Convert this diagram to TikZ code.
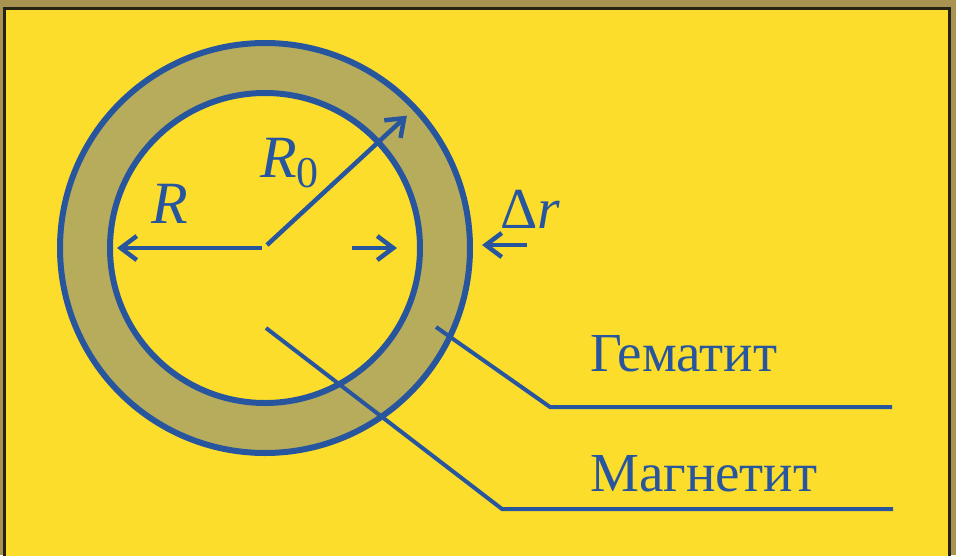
\documentclass[tikz,border=0pt]{standalone}
\usepackage{fontspec}
\setmainfont{Liberation Serif}
\usetikzlibrary{arrows.meta,calc}
\definecolor{cardyellow}{RGB}{253,221,44}
\definecolor{shellgray}{RGB}{183,172,92}
\definecolor{inkblue}{RGB}{40,86,158}
\definecolor{frameolive}{RGB}{168,148,80}
\definecolor{framedark}{RGB}{38,34,20}

\begin{document}
\begin{tikzpicture}[
  x=1pt, y=-1pt,
  ring/.style={draw=inkblue, line width=6pt},
  arr/.style={draw=inkblue, line width=4.5pt,
    -{Straight Barb[length=16pt,width=24pt,line width=4.5pt]}},
  leader/.style={draw=inkblue, line width=4pt},
  sym/.style={inner sep=0pt, text=inkblue, font=\fontsize{60}{60}\selectfont},
  mineral/.style={inner sep=0pt, anchor=base west, text=inkblue,
    font=\fontsize{55}{55}\selectfont}
  ]
  \useasboundingbox (0,0) rectangle (956,555);

  % card and frame
  \fill[frameolive] (0,0) rectangle (956,555);
  \fill[framedark] (3,7) rectangle (951,560);
  \fill[cardyellow] (6,9.5) rectangle (948,560);

  \coordinate (O) at (265,248);

  % shell between the two spheres
  \fill[shellgray, even odd rule] (O) circle[radius=205] (O) circle[radius=155];
  \draw[ring] (O) circle[radius=205];
  \draw[ring] (O) circle[radius=155];

  % radii
  \coordinate (Rtail) at ([xshift=-3pt]O);
  \coordinate (Rtip) at ([xshift=-148pt]O);
  \coordinate (Rztail) at ([shift={(2,-3)}]O);
  \coordinate (Rztip) at ($(O)+(-43:194)$);
  \path[arr] (Rtail) -- (Rtip);
  \path[arr] (Rztail) -- (Rztip);

  % thickness of the shell
  \coordinate (inA) at ([xshift=87pt]O);
  \coordinate (inB) at ([xshift=132pt]O);
  \coordinate (outA) at ([shift={(262,-3)}]O);
  \coordinate (outB) at ([shift={(217,-3)}]O);
  \path[arr] (inA) -- (inB);
  \path[arr] (outA) -- (outB);

  \node (lblR) [sym, anchor=base west] at (151,223) {\itshape R};
  \node (lblRzero) [sym, anchor=base west] at (260,177)
    {\itshape R\raisebox{-10pt}{\upshape\fontsize{44}{44}\selectfont 0}};
  \node (lbldr) [sym, anchor=base west, font=\fontsize{58}{58}\selectfont]
    at (500,228) {Δ\textit{r}};

  % leaders to the names
  \node (hem) [mineral] at (590,371) {Гематит};
  \node (mag) [mineral] at (590,491) {Магнетит};
  \coordinate (hemA) at (436,327);
  \coordinate (hemB) at (550,407);
  \coordinate (hemC) at (892,407);
  \coordinate (magA) at (266,328);
  \coordinate (magB) at (502,509);
  \coordinate (magC) at (893,509);
  \path[leader] (hemA) -- (hemB) -- (hemC);
  \path[leader] (magA) -- (magB) -- (magC);
\end{tikzpicture}
\end{document}
